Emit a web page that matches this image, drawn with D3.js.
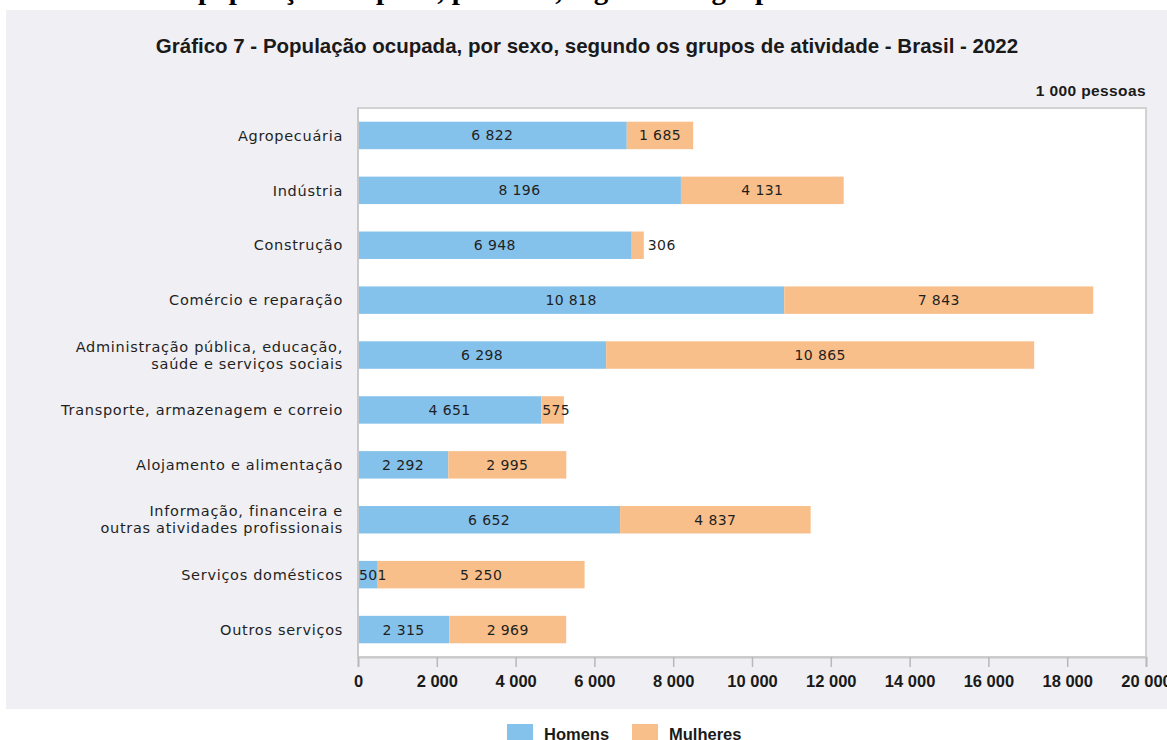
<!DOCTYPE html>
<html>
<head>
<meta charset="utf-8">
<script src="https://cdn.jsdelivr.net/npm/d3@7"></script>
<style>
  body { margin: 0; background: #fff; }
  svg { display: block; }
</style>
</head>
<body>
<div id="chart"></div>
<script>
// Data
var categories = [
    ["Agropecuária"],
    ["Indústria"],
    ["Construção"],
    ["Comércio e reparação"],
    ["Administração pública, educação,", "saúde e serviços sociais"],
    ["Transporte, armazenagem e correio"],
    ["Alojamento e alimentação"],
    ["Informação, financeira e", "outras atividades profissionais"],
    ["Serviços domésticos"],
    ["Outros serviços"]
];
var homens = [6822, 8196, 6948, 10818, 6298, 4651, 2292, 6652, 501, 2315];
var mulheres = [1685, 4131, 306, 7843, 10865, 575, 2995, 4837, 5250, 2969];
var xTicks = [0, 2000, 4000, 6000, 8000, 10000, 12000, 14000, 16000, 18000, 20000];
var seriesNames = ["Homens", "Mulheres"];
var colors = ["#85c2eb", "#f9bf8a"];

var W = 1167, H = 740;
var margin = {top: 108, left: 358};

var condensed = "'Liberation Sans Narrow', 'Arial Narrow', 'Liberation Sans', Arial, sans-serif";
var wide = "'DejaVu Sans', Verdana, sans-serif";

var loc = d3.formatLocale({decimal: ",", thousands: " ", grouping: [3], currency: ["", ""]});
var fmt = loc.format(",d");

var svg = d3.select("#chart")
    .append("svg")
        .attr("width", W)
        .attr("height", H);

// cropped heading of the page above the chart (only descenders show)
svg.append("text")
    .attr("x", 198)
    .attr("y", -1)
    .attr("font-family", "'Liberation Serif', 'Times New Roman', serif")
    .attr("font-weight", "bold")
    .attr("font-size", 29)
    .attr("fill", "#000")
    .text("população ocupada, por sexo, segundo os grupos de atividade");

// gray panel
svg.append("rect")
    .attr("x", 6)
    .attr("y", 10)
    .attr("width", W - 6)
    .attr("height", 699)
    .attr("fill", "#f0eff4");

svg.append("text")
    .attr("x", 587)
    .attr("y", 53)
    .attr("text-anchor", "middle")
    .attr("font-family", condensed)
    .attr("font-weight", "bold")
    .attr("font-size", 20.5)
    .attr("fill", "#1a1a1a")
    .text("Gráfico 7 - População ocupada, por sexo, segundo os grupos de atividade - Brasil - 2022");

var height = 657 - margin.top;

var g = svg.append("g")
    .attr("transform", "translate(" + margin.left + "," + margin.top + ")");

// Scales
var x = d3.scaleLinear()
    .domain([0, 20000])
    .range([0, 788]);
var y = d3.scaleBand()
    .domain(d3.range(categories.length))
    .range([0, height])
    .paddingInner(0.5)
    .paddingOuter(0.25);

// plot frame
g.append("rect")
    .attr("x", 0)
    .attr("y", 0)
    .attr("width", x(20000))
    .attr("height", height)
    .attr("fill", "#fff")
    .attr("stroke", "#d2d2d2")
    .attr("stroke-width", 2);

g.append("text")
    .attr("x", x(20000))
    .attr("y", -12)
    .attr("text-anchor", "end")
    .attr("font-family", condensed)
    .attr("font-weight", "bold")
    .attr("font-size", 15.5)
    .attr("letter-spacing", 0.4)
    .attr("fill", "#1a1a1a")
    .text("1 000 pessoas");

// stacked data
var rows = categories.map(function(c, i) {
    return {i: i, segs: [
        {s: 0, x0: 0, x1: homens[i], v: homens[i]},
        {s: 1, x0: homens[i], x1: homens[i] + mulheres[i], v: mulheres[i]}
    ]};
});

var bars = g.append("g");
rows.forEach(function(r) {
    bars.selectAll(null)
        .data(r.segs)
        .join("rect")
            .attr("x", d => x(d.x0))
            .attr("y", y(r.i))
            .attr("width", d => x(d.x1) - x(d.x0))
            .attr("height", y.bandwidth())
            .attr("fill", d => colors[d.s]);
});

// value labels
rows.forEach(function(r) {
    r.segs.forEach(function(d) {
        var w = x(d.x1) - x(d.x0);
        var t = g.append("text")
            .attr("y", y(r.i) + y.bandwidth() / 2)
            .attr("dy", "0.36em")
            .attr("font-family", wide)
            .attr("font-size", 14)
            .attr("letter-spacing", 0.4)
            .attr("fill", "#1f1f1f")
            .text(fmt(d.v));
        if (w < 15) {
            t.attr("x", x(d.x1) + 4).attr("text-anchor", "start");
        } else if (w < 34) {
            t.attr("x", x(d.x0) + 1).attr("text-anchor", "start");
        } else {
            t.attr("x", (x(d.x0) + x(d.x1)) / 2).attr("text-anchor", "middle");
        }
    });
});

// category labels
var catG = g.append("g");
categories.forEach(function(lines, i) {
    var cy = y(i) + y.bandwidth() / 2;
    var t = catG.append("text")
        .attr("x", -15)
        .attr("text-anchor", "end")
        .attr("font-family", wide)
        .attr("font-size", 14.5)
        .attr("letter-spacing", 0.7)
        .attr("fill", "#1f1f1f");
    lines.forEach(function(l, k) {
        t.append("tspan")
            .attr("x", -15)
            .attr("y", cy + (k - (lines.length - 1) / 2) * 17)
            .attr("dy", "0.36em")
            .text(l);
    });
});

// x axis
var xAxis = g.append("g")
    .attr("transform", "translate(0," + height + ")")
    .call(d3.axisBottom(x).tickValues(xTicks).tickFormat(fmt).tickSize(10).tickPadding(8));
xAxis.select(".domain").attr("stroke", "#c8c8c8").attr("stroke-width", 2);
xAxis.selectAll(".tick line").attr("stroke", "#b8b8b8").attr("stroke-width", 1.5);
xAxis.selectAll(".tick text")
    .attr("font-family", condensed)
    .attr("font-weight", "bold")
    .attr("font-size", 16.5)
    .attr("fill", "#1a1a1a");

// left axis line
g.append("line")
    .attr("x1", 0).attr("x2", 0)
    .attr("y1", 0).attr("y2", height)
    .attr("stroke", "#c8c8c8")
    .attr("stroke-width", 2);

// legend
var legend = svg.append("g");
var legX = [507, 632];
seriesNames.forEach(function(n, i) {
    legend.append("rect")
        .attr("x", legX[i])
        .attr("y", 724)
        .attr("width", 26)
        .attr("height", 20)
        .attr("fill", colors[i]);
    legend.append("text")
        .attr("x", legX[i] + 37)
        .attr("y", 740)
        .attr("font-family", condensed)
        .attr("font-weight", "bold")
        .attr("font-size", 16.5)
        .attr("fill", "#1a1a1a")
        .text(n);
});
</script>
</body>
</html>
